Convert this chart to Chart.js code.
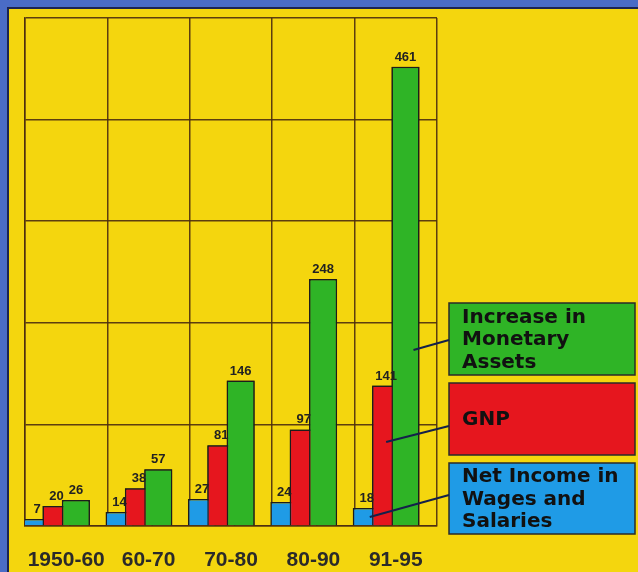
<!DOCTYPE html>
<html><head><meta charset="utf-8">
<script src="https://cdn.jsdelivr.net/npm/chart.js@4.4.0/dist/chart.umd.min.js"></script>
<style>
html,body{margin:0;padding:0;background:#f4d60e;overflow:hidden}
#wrap{position:relative;width:638px;height:572px}
canvas{display:block}
</style></head><body>
<div id="wrap"><canvas id="c" width="638" height="572"></canvas></div>
<script>
// ---- data ----
const categories = ['1950-60', '60-70', '70-80', '80-90', '91-95'];
const netIncome = [7, 14, 27, 24, 18];
const gnp = [20, 38, 81, 97, 141];
const monetaryAssets = [26, 57, 146, 248, 461];
const seriesLabels = [
  ['Net Income in', 'Wages and', 'Salaries'],
  ['GNP'],
  ['Increase in', 'Monetary', 'Assets']
];
const yTicks = [0, 102, 204, 306, 408, 510];

// ---- styles ----
const BLUE = '#1f9be6', RED = '#e6161e', GREEN = '#2fb426';
const YELLOW = '#f4d60e', FRAME = '#4a6cc6', INK = '#1c1c1c';
const GRID = 'rgba(75,45,15,0.9)';

const bgPlugin = {
  id: 'bg',
  beforeDraw(chart) {
    const ctx = chart.ctx;
    ctx.save();
    ctx.fillStyle = YELLOW;
    ctx.fillRect(0, 0, chart.width, chart.height);
    ctx.fillStyle = FRAME;
    ctx.fillRect(0, 0, chart.width, 7);
    ctx.fillRect(0, 0, 7, chart.height);
    ctx.fillStyle = '#1b2452';
    ctx.fillRect(7, 7, chart.width - 7, 2);
    ctx.fillRect(7, 7, 2, chart.height - 7);
    ctx.restore();
  }
};

const legendBoxes = [
  {ds: 2, color: GREEN, top: 303, h: 72, ly: 340, ey: 350, dx: 8},
  {ds: 1, color: RED, top: 383, h: 72, ly: 426, ey: 442, dx: 0},
  {ds: 0, color: BLUE, top: 463, h: 71, ly: 495, ey: 517, dx: 3}
];

const overlayPlugin = {
  id: 'overlay',
  afterDatasetsDraw(chart) {
    const ctx = chart.ctx;
    chart.getDatasetMeta(1).controller.draw();
    chart.getDatasetMeta(2).controller.draw();
    ctx.save();
    ctx.font = 'bold 13px "Liberation Sans", Arial, sans-serif';
    ctx.fillStyle = '#222';
    ctx.textAlign = 'center';
    ctx.textBaseline = 'bottom';
    for (let d = 0; d < 3; d++) {
      const meta = chart.getDatasetMeta(d);
      const vals = chart.data.datasets[d].data;
      meta.data.forEach((bar, i) => {
        ctx.fillText(String(vals[i]), bar.x, bar.y - 3);
      });
    }
    ctx.restore();
    ctx.save();
    const bx = 449, bw = 186;
    legendBoxes.forEach(b => {
      ctx.fillStyle = b.color;
      ctx.fillRect(bx, b.top, bw, b.h);
      ctx.strokeStyle = '#2a2a2a';
      ctx.lineWidth = 1.5;
      ctx.strokeRect(bx, b.top, bw, b.h);
      const lines = seriesLabels[b.ds];
      ctx.fillStyle = '#111';
      ctx.font = 'bold 20px "DejaVu Sans", sans-serif';
      ctx.textAlign = 'left';
      ctx.textBaseline = 'middle';
      const lh = 22.5;
      const cy = b.top + b.h / 2;
      lines.forEach((t, k) => {
        ctx.fillText(t, 462, cy + (k - (lines.length - 1) / 2) * lh + 1);
      });
      const meta = chart.getDatasetMeta(b.ds);
      const bar = meta.data[meta.data.length - 1];
      ctx.strokeStyle = '#14204a';
      ctx.lineWidth = 2;
      ctx.beginPath();
      ctx.moveTo(bx, b.ly);
      ctx.lineTo(bar.x + b.dx, b.ey);
      ctx.stroke();
    });
    ctx.restore();
  }
};

const barCommon = {
  borderColor: INK,
  borderWidth: 1.5,
  borderSkipped: 'bottom',
  categoryPercentage: 0.94,
  barPercentage: 1.45
};

new Chart(document.getElementById('c'), {
  type: 'bar',
  data: {
    labels: categories,
    datasets: [
      Object.assign({label: seriesLabels[0].join(' '), data: netIncome, backgroundColor: BLUE}, barCommon),
      Object.assign({label: seriesLabels[1].join(' '), data: gnp, backgroundColor: RED}, barCommon),
      Object.assign({label: seriesLabels[2].join(' '), data: monetaryAssets, backgroundColor: GREEN}, barCommon),
      Object.assign({label: '', data: categories.map(() => null), backgroundColor: 'rgba(0,0,0,0)'}, barCommon)
    ]
  },
  options: {
    responsive: false,
    animation: false,
    layout: {padding: {left: 25, right: 201, top: 18, bottom: 0}},
    plugins: {legend: {display: false}, tooltip: {enabled: false}},
    scales: {
      x: {
        offset: true,
        afterFit(scale) { scale.height = 46; },
        grid: {display: true, offset: true, color: GRID, lineWidth: 1.5, drawTicks: false},
        border: {display: true, color: GRID, width: 1.5},
        ticks: {
          padding: 24,
          maxRotation: 0,
          minRotation: 0,
          autoSkip: false,
          color: '#2a2a2a',
          font: {family: '"Liberation Sans", Arial, sans-serif', size: 21, weight: 'bold', lineHeight: 1}
        }
      },
      y: {
        min: yTicks[0],
        max: yTicks[yTicks.length - 1],
        afterBuildTicks(scale) { scale.ticks = yTicks.map(v => ({value: v})); },
        grid: {color: GRID, lineWidth: 1.5, drawTicks: false},
        border: {display: true, color: GRID, width: 1.5},
        ticks: {display: false}
      }
    }
  },
  plugins: [bgPlugin, overlayPlugin]
});
</script>
</body></html>
